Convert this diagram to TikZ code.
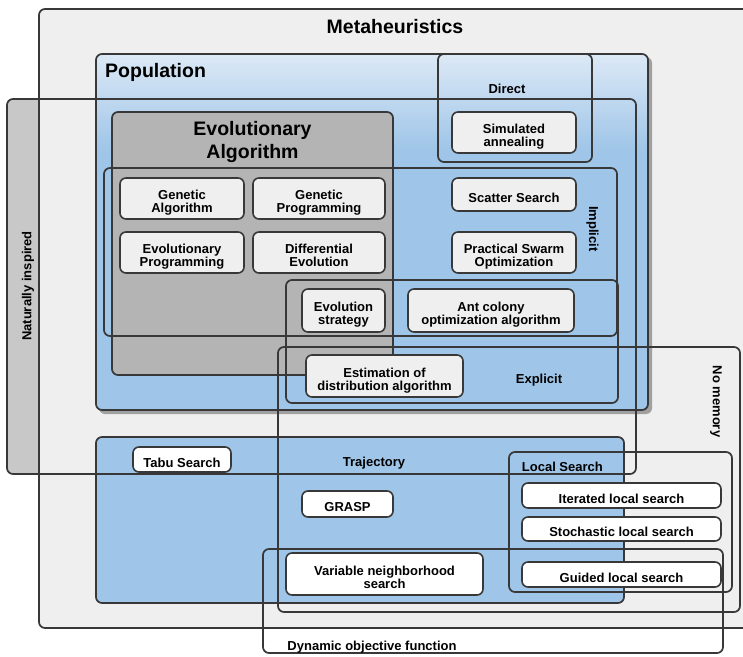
\documentclass[tikz,border=0pt]{standalone}
\usepackage{fontspec}
\setmainfont{Liberation Sans}
\usetikzlibrary{shadings}
\definecolor{linec}{HTML}{383838}
\definecolor{metagray}{HTML}{EFEFEF}
\definecolor{natgray}{HTML}{C8C8C8}
\definecolor{eagray}{HTML}{B4B4B4}
\definecolor{popblue}{HTML}{9FC5E8}
\definecolor{poplight}{HTML}{DCE9F6}
\definecolor{nodegray}{HTML}{EFEFEF}
\definecolor{shadowgray}{HTML}{A0A0A0}
\newcommand{\dn}[1]{\raisebox{-5pt}[\height][\depth]{\begin{tabular}{@{}c@{}}#1\end{tabular}}}
\begin{document}
\begin{tikzpicture}[x=1pt,y=-1pt,
  region/.style={draw=linec, line width=1.7, rounded corners=6},
  title/.style={font=\fontsize{19.5}{22.3}\selectfont\bfseries, inner sep=0},
  lab/.style={font=\fontsize{13}{13.3}\selectfont\bfseries, inner sep=0},
  algbox/.style={draw=linec, line width=1.6, rounded corners=6, fill=nodegray, inner sep=0,
    font=\fontsize{13}{13.3}\selectfont\bfseries},
  whitebox/.style={algbox, fill=white}]
\useasboundingbox (0,0) rectangle (743,656);

% ---- fills
\fill[natgray, rounded corners=6] (7,99) rectangle (636,474);
\draw[region, fill=metagray] (39,9) rectangle (760,628);

\fill[shadowgray, rounded corners=6] (99,57) rectangle (652,414);
\begin{scope}
  \clip[rounded corners=6] (96,54) rectangle (648,410);
  \fill[popblue] (96,54) rectangle (648,410);
  \shade[top color=poplight, bottom color=popblue] (96,54) rectangle (648,150);
\end{scope}
\draw[region] (96,54) rectangle (648,410);

\draw[region, fill=popblue] (96,437) rectangle (624,603);
\draw[region, fill=eagray] (112,112) rectangle (393,375);

% ---- outlines
\draw[region] (7,99) rectangle (636,474);
\draw[region] (438,54) rectangle (592,162);
\draw[region] (104,168) rectangle (617,336);
\draw[region] (286,280) rectangle (618,403);
\draw[region] (278,347) rectangle (740,612);
\draw[region] (509,452) rectangle (732,592);
\draw[region] (263,549) rectangle (723,653);

% ---- region labels
\node[title, anchor=base] (tmeta) at (395,33.3) {Metaheuristics};
\node[title, anchor=base west] (tpop) at (105,77.3) {Population};
\node[title, align=center] (tea) at (252.5,142) {Evolutionary\\Algorithm};
\node[lab, anchor=base] (tdirect) at (507,93.3) {Direct};
\node[lab, anchor=base] (texplicit) at (539,383.3) {Explicit};
\node[lab, anchor=base] (ttraj) at (374,466.7) {Trajectory};
\node[lab, anchor=base west] (tlocal) at (521.7,471.7) {Local Search};
\node[lab, anchor=base] (tdyn) at (372,650) {Dynamic objective function};
\node[lab, rotate=90] (tnat) at (28,286) {Naturally inspired};
\node[lab, rotate=-90] (timpl) at (592.5,229) {Implicit};
\node[lab, rotate=-90] (tnomem) at (716,401.5) {No memory};

% ---- algorithm nodes
\node[algbox, minimum width=124, minimum height=41] (ga) at (182,198.5) {\dn{Genetic\\Algorithm}};
\node[algbox, minimum width=132, minimum height=41] (gp) at (319,198.5) {\dn{Genetic\\Programming}};
\node[algbox, minimum width=124, minimum height=41] (ep) at (182,252.5) {\dn{Evolutionary\\Programming}};
\node[algbox, minimum width=132, minimum height=41] (de) at (319,252.5) {\dn{Differential\\Evolution}};
\node[algbox, minimum width=83, minimum height=43] (es) at (343.5,310.5) {\dn{Evolution\\strategy}};
\node[algbox, minimum width=157, minimum height=42] (eda) at (384.5,376) {\dn{Estimation of\\distribution algorithm}};
\node[algbox, minimum width=124, minimum height=41] (sa) at (514,132.5) {\dn{Simulated\\annealing}};
\node[algbox, minimum width=124, minimum height=33] (ss) at (514,194.5) {\dn{Scatter Search}};
\node[algbox, minimum width=124, minimum height=41] (pso) at (514,252.5) {\dn{Practical Swarm\\Optimization}};
\node[algbox, minimum width=166, minimum height=43] (aco) at (491,310.5) {\dn{Ant colony\\optimization algorithm}};
\node[whitebox, minimum width=98, minimum height=25] (tabu) at (182,459.5) {\dn{Tabu Search}};
\node[whitebox, minimum width=91, minimum height=26] (grasp) at (347.5,504) {\dn{GRASP}};
\node[whitebox, minimum width=197, minimum height=42] (vns) at (384.5,574) {\dn{Variable neighborhood\\search}};
\node[whitebox, minimum width=199, minimum height=25] (ils) at (621.5,495.5) {\dn{Iterated local search}};
\node[whitebox, minimum width=199, minimum height=24] (sls) at (621.5,529) {\dn{Stochastic local search}};
\node[whitebox, minimum width=199, minimum height=25] (gls) at (621.5,574.5) {\dn{Guided local search}};
\end{tikzpicture}
\end{document}
